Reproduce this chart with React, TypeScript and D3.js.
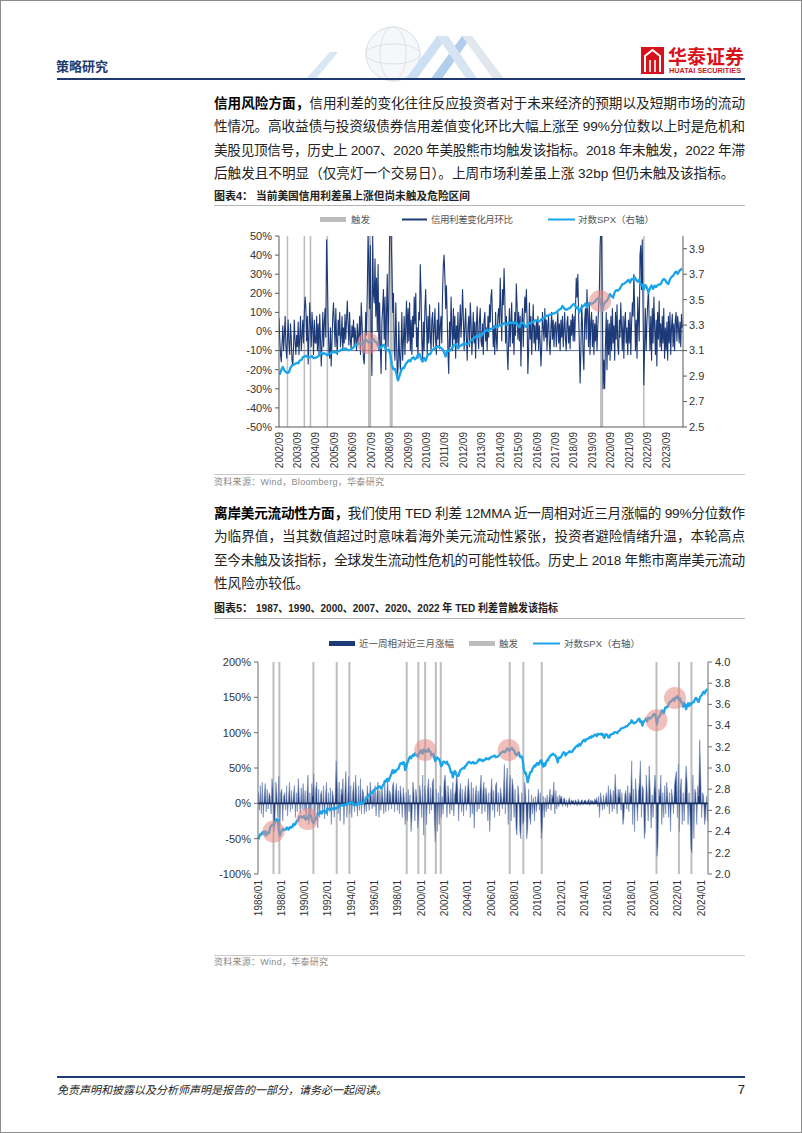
import React from "react";
import * as d3 from "d3";

// ---------------- DATA ----------------
// S&P 500 monthly closes (level), one row per year starting 1986
const SPX_START_YEAR = 1986;
const SPX_MONTHLY: number[][] = [
  [212, 227, 238, 235, 247, 251, 236, 253, 231, 244, 249, 242],
  [274, 284, 292, 288, 290, 304, 319, 330, 322, 252, 230, 247],
  [257, 268, 259, 261, 262, 274, 272, 262, 272, 279, 274, 278],
  [297, 289, 295, 310, 321, 318, 346, 351, 349, 340, 346, 353],
  [329, 332, 340, 331, 361, 358, 356, 323, 306, 304, 322, 330],
  [344, 367, 375, 375, 390, 371, 388, 395, 388, 392, 375, 417],
  [409, 413, 404, 415, 415, 408, 424, 414, 418, 419, 431, 436],
  [439, 443, 452, 440, 450, 451, 448, 464, 459, 468, 462, 466],
  [482, 467, 446, 451, 457, 444, 458, 475, 463, 472, 454, 459],
  [470, 487, 501, 515, 533, 545, 562, 562, 584, 582, 605, 616],
  [636, 640, 645, 654, 669, 671, 640, 652, 687, 705, 757, 741],
  [786, 791, 757, 801, 848, 885, 954, 899, 947, 915, 955, 970],
  [980, 1049, 1102, 1112, 1091, 1134, 1121, 957, 1017, 1099, 1164, 1229],
  [1280, 1238, 1286, 1335, 1302, 1373, 1329, 1320, 1283, 1363, 1389, 1469],
  [1394, 1366, 1499, 1452, 1421, 1455, 1431, 1518, 1437, 1429, 1315, 1320],
  [1366, 1240, 1160, 1249, 1256, 1224, 1211, 1134, 1041, 1060, 1139, 1148],
  [1130, 1107, 1147, 1077, 1067, 990, 912, 916, 815, 885, 936, 880],
  [855, 841, 848, 916, 964, 975, 990, 1008, 996, 1050, 1058, 1112],
  [1131, 1145, 1126, 1107, 1121, 1141, 1102, 1104, 1115, 1130, 1174, 1212],
  [1181, 1204, 1181, 1157, 1192, 1191, 1234, 1220, 1229, 1207, 1249, 1248],
  [1280, 1281, 1295, 1311, 1270, 1270, 1277, 1304, 1336, 1378, 1401, 1418],
  [1438, 1407, 1421, 1482, 1531, 1503, 1455, 1474, 1527, 1549, 1481, 1468],
  [1379, 1331, 1323, 1386, 1400, 1280, 1267, 1283, 1165, 969, 896, 903],
  [826, 735, 798, 873, 919, 919, 987, 1021, 1057, 1036, 1096, 1115],
  [1074, 1104, 1169, 1187, 1089, 1031, 1102, 1049, 1141, 1183, 1181, 1258],
  [1286, 1327, 1326, 1364, 1345, 1321, 1292, 1219, 1131, 1253, 1247, 1258],
  [1312, 1366, 1408, 1398, 1310, 1362, 1379, 1407, 1441, 1412, 1416, 1426],
  [1498, 1515, 1569, 1598, 1631, 1606, 1686, 1633, 1682, 1757, 1806, 1848],
  [1783, 1859, 1872, 1884, 1924, 1960, 1931, 2003, 1972, 2018, 2068, 2059],
  [1995, 2105, 2068, 2086, 2107, 2063, 2104, 1972, 1920, 2079, 2080, 2044],
  [1940, 1932, 2060, 2065, 2097, 2099, 2174, 2171, 2168, 2126, 2199, 2239],
  [2279, 2364, 2363, 2384, 2412, 2423, 2470, 2472, 2519, 2575, 2648, 2674],
  [2824, 2714, 2641, 2648, 2705, 2718, 2816, 2902, 2914, 2712, 2760, 2507],
  [2704, 2784, 2834, 2946, 2752, 2942, 2980, 2926, 2977, 3038, 3141, 3231],
  [3226, 2954, 2585, 2912, 3044, 3100, 3271, 3500, 3363, 3270, 3622, 3756],
  [3714, 3811, 3973, 4181, 4204, 4298, 4395, 4523, 4308, 4605, 4567, 4766],
  [4516, 4374, 4530, 4132, 4132, 3785, 4130, 3955, 3586, 3872, 4080, 3840],
  [4077, 3970, 4109, 4169, 4180, 4450, 4589, 4508, 4288, 4194, 4568, 4770],
  [4846, 5096, 5254, 5036, 5278, 5460, 5522],
];

// Chart 4: credit spread month-on-month change (%), semi-monthly, rows Sep..Aug starting 2002/09
const CREDIT_START = [2002, 8];
const CREDIT_CHANGE: number[][] = [
  [7, -4, -12, -16, -6, 3, -10, -2, 8, -8, -14, -3, 6, -6, -12, 4, -3, -15, -18, -8, 6, -5, -12, -2],
  [-8, 5, -12, -4, 8, -10, -3, 6, -6, 10, 18, 12, -5, 8, -17, -2, 15, 4, -8, 10, 2, -12, 6, -6],
  [-6, 8, -10, 4, -12, 9, -4, -18, -6, 10, -8, 5, 12, -3, 48, 30, 5, -10, -14, 2, -18, -6, 8, 15],
  [4, -8, 12, -5, -12, 6, -2, 10, -8, -3, 8, -10, 2, -6, 9, -4, 6, 16, 4, -7, 10, -5, -9, 3],
  [-3, 6, -8, 2, -5, -10, 4, -6, -2, 8, -12, 15, 6, -4, -14, -17, -8, 10, -2, 20, 50, 35, 12, 45],
  [-5, -23, 50, 20, 15, 38, 8, 28, 0, 35, -10, 15, -8, -22, 5, 12, 22, -4, 18, -20, 10, 30, -8, 15],
  [50, 55, 50, 33, 10, 20, -10, -15, 15, -5, -25, -18, 5, -12, -20, -8, 10, -15, -5, 8, -12, 2, 16, -6],
  [12, -5, 15, -10, 6, -12, 8, -3, 18, 4, 20, -8, 2, -14, 10, 6, 35, 20, -6, -15, 5, -10, 12, 22],
  [4, -12, 8, -6, 14, -3, -10, 6, 10, -8, 2, 12, -5, -12, 6, -4, 15, -9, 3, 8, -6, 20, 35, 40],
  [28, 12, 24, 8, -12, -22, 5, -8, 18, 2, -10, 12, -4, 8, -14, 3, -6, 10, -9, 2, 14, -3, 8, 22],
  [6, -10, 3, 12, -4, -15, 2, 8, -8, 15, 4, -12, -3, 10, -6, 5, -14, 2, 13, -2, -9, 6, 12, -5],
  [-8, 4, -12, 6, 10, -5, 2, -10, 8, -3, 14, 5, 18, 22, 6, -8, 3, -12, 10, -4, -10, 8, 12, 4],
  [28, 10, -5, 22, 14, 33, 18, -6, 8, -10, -20, -4, 12, -8, 6, 15, -6, 4, -12, 10, -2, 25, 14, -4],
  [10, -5, 8, -18, 4, 12, -8, 6, 18, 10, 22, 5, -22, -10, 15, -4, 8, -12, 2, 14, -6, 3, -10, 6],
  [-4, 8, -10, 3, -6, -18, -8, 10, 2, -5, 12, -3, 6, -10, 4, 8, -6, -12, 2, 10, -4, 6, -8, 3],
  [5, -8, 2, 10, -6, 4, -10, 6, -3, 8, -8, 2, 10, -4, -10, 5, 8, -6, 3, -9, 6, -2, 9, -5],
  [8, -5, 12, 28, 18, 30, 10, -6, -27, -10, 14, 4, -12, -20, 6, 12, -4, 22, 8, -8, 15, -12, 5, 10],
  [-8, 6, -12, 4, -5, 8, -10, 2, 12, 20, 45, 55, 50, 10, -30, -15, -30, -8, 10, -20, 6, -12, 4, -15],
  [8, -10, 12, -6, 3, -15, 10, -4, 14, -8, -12, 6, -3, 15, 2, -10, 8, -14, 5, 10, -6, 2, -12, 6],
  [-6, 10, -12, 4, 15, 8, 30, 12, -10, 6, -14, 18, 8, -5, 40, 45, 22, 48, 10, -28, -8, 12, -10, 5],
  [15, 22, 4, -10, 8, -15, 12, -6, 18, 2, -12, 6, -18, 10, -4, 16, -8, 4, -10, 8, -6, 12, -14, 2],
  [-10, 5, -15, 8, -6, 10, -12, 2, 9, -8, 4, -10, 6, 10, -5, 8, 3, -6, 5, -8, 9, 2],
];
// Chart 4 trigger periods [start, end)
const CREDIT_TRIGGERS: [string, string][] = [
  ["2003-02", "2003-03"], ["2004-01", "2004-02"], ["2004-05", "2004-06"], ["2005-04", "2005-05"],
  ["2007-07", "2007-09"], ["2008-09", "2008-11"], ["2020-02", "2020-04"], ["2022-06", "2022-07"],
];
const CREDIT_HIGHLIGHTS: [string, number][] = [["2007-07", 3.16], ["2020-02", 3.49]];

// Chart 5: TED spread weekly vs 3M change (%), monthly, one row per year starting 1986
const TED_START_YEAR = 1986;
const TED_CHANGE: number[][] = [
  [15, -10, 25, -15, 30, -20, 10, 28, -12, 20, -8, 15],
  [10, -15, 35, 20, -40, -25, 30, 12, -20, 38, -35, 15],
  [20, -25, 10, 15, -10, 25, -18, 8, 30, -12, 18, -8],
  [12, 25, -20, 15, -12, 35, 10, -15, 22, -8, 28, -10],
  [18, -25, 12, 40, -30, 15, -20, 28, 10, 42, -25, 20],
  [30, -35, 20, -20, 12, 18, -15, 25, -22, 10, 30, -18],
  [15, -12, 22, -30, 18, 10, -20, 12, 60, 25, -15, 30],
  [-25, 20, 12, 35, -30, 18, 45, -20, 10, 38, -15, 25],
  [-20, 15, 30, -12, 40, 12, -18, 25, -10, 35, -15, 20],
  [15, -15, 10, -12, 25, 8, -10, 30, 12, -8, 20, -5],
  [25, -18, 12, 30, -20, 18, -10, 22, 8, -15, 28, -12],
  [10, 35, -10, 18, 12, -8, 25, 30, -12, 15, 28, -10],
  [18, -15, 25, 10, -20, 22, 8, -30, 15, -25, 20, -12],
  [12, -40, -20, 30, 15, -25, 20, 8, -35, -15, 25, 10],
  [-20, 40, -45, 25, 12, -30, 18, 35, -15, 22, -10, 30],
  [35, -25, -55, 20, -40, 15, -30, 25, -20, 10, -15, 30],
  [40, 15, -20, 25, 10, -15, 20, -10, 30, -18, 12, 20],
  [45, 20, -25, 15, 28, -12, 20, -18, 10, 25, -10, 15],
  [35, 12, -20, 30, -15, 22, -35, 10, 25, -12, 18, -8],
  [20, 40, -15, 18, 30, -12, 22, 10, -25, 15, -40, 12],
  [35, -10, 18, -20, 25, 30, -12, 15, -18, 22, 10, -8],
  [15, 55, -15, 25, 50, -30, 20, 40, -25, 35, 25, -20],
  [20, -35, -45, 25, 10, -40, -50, 15, -30, -25, 30, 10],
  [-50, -35, 20, -20, -30, 12, -15, 8, -25, 10, -12, 5],
  [20, -10, 15, -50, -35, 10, -20, 8, -12, 12, -8, 5],
  [20, -10, 12, 8, 30, -15, 18, -8, 10, -5, 12, 6],
  [10, -5, 6, 8, -4, 5, -6, 4, 8, -3, 5, 3],
  [4, -3, 5, 3, -4, 6, 2, -3, 4, 5, -2, 3],
  [5, 3, -2, 4, 6, -3, 5, 2, 4, -2, 6, 3],
  [8, -5, 10, -20, 15, 5, -10, 12, -8, 6, 15, -5],
  [25, -15, 20, 10, -12, 18, -8, 41, 12, -15, 20, 8],
  [20, -10, 15, -30, -20, 12, 18, -8, 25, -12, 15, 10],
  [60, -30, 20, -40, 35, 10, -25, 15, 30, 60, -20, 25],
  [20, -50, -40, 40, 15, -25, 53, 20, -35, 12, -20, 18],
  [40, 15, -75, -60, 20, 10, 40, -30, 15, -20, 25, -15],
  [30, 10, -20, 15, -40, 20, 8, -15, 25, 37, 45, -20],
  [55, -40, 20, 35, -30, 15, -25, 20, 53, 30, -30, 15],
  [-20, -65, -70, 40, -50, 20, 15, -30, 25, 10, 90, 40],
  [-20, 15, 10, -30, -20, 10, -25],
];
const TED_TRIGGERS: string[] = [
  "1987-05", "1987-11", "1990-10", "1992-10", "1993-11", "1998-10", "1999-10", "2000-05",
  "2001-04", "2001-09", "2007-08", "2008-10", "2010-05", "2020-03", "2022-02", "2023-03",
];
const TED_HIGHLIGHTS: [string, number][] = [
  ["1987-05", 2.4], ["1990-04", 2.52], ["2000-05", 3.17], ["2007-07", 3.17], ["2020-03", 3.45], ["2021-10", 3.66],
];

// ticks / labels
const CREDIT_TICKS = [-50, -40, -30, -20, -10, 0, 10, 20, 30, 40, 50];
const SPX1_TICKS = [2.5, 2.7, 2.9, 3.1, 3.3, 3.5, 3.7, 3.9];
const X1_LABELS = ["2002/09", "2003/09", "2004/09", "2005/09", "2006/09", "2007/09", "2008/09", "2009/09", "2010/09", "2011/09", "2012/09", "2013/09", "2014/09", "2015/09", "2016/09", "2017/09", "2018/09", "2019/09", "2020/09", "2021/09", "2022/09", "2023/09"];
const TED_TICKS = [-100, -50, 0, 50, 100, 150, 200];
const SPX2_TICKS = [2.0, 2.2, 2.4, 2.6, 2.8, 3.0, 3.2, 3.4, 3.6, 3.8, 4.0];
const X2_LABELS = ["1986/01", "1988/01", "1990/01", "1992/01", "1994/01", "1996/01", "1998/01", "2000/01", "2002/01", "2004/01", "2006/01", "2008/01", "2010/01", "2012/01", "2014/01", "2016/01", "2018/01", "2020/01", "2022/01", "2024/01"];

const PARA1: { b?: string; t: string }[] = [
  { b: "信用风险方面，", t: "信用利差的变化往往反应投资者对于未来经济的预期以及短期市场的流动" },
  { t: "性情况。高收益债与投资级债券信用差值变化环比大幅上涨至 99%分位数以上时是危机和" },
  { t: "美股见顶信号，历史上 2007、2020 年美股熊市均触发该指标。2018 年未触发，2022 年滞" },
  { t: "后触发且不明显（仅亮灯一个交易日）。上周市场利差虽上涨 32bp 但仍未触及该指标。" },
];
const PARA2: { b?: string; t: string }[] = [
  { b: "离岸美元流动性方面，", t: "我们使用 TED 利差 12MMA 近一周相对近三月涨幅的 99%分位数作" },
  { t: "为临界值，当其数值超过时意味着海外美元流动性紧张，投资者避险情绪升温，本轮高点" },
  { t: "至今未触及该指标，全球发生流动性危机的可能性较低。历史上 2018 年熊市离岸美元流动" },
  { t: "性风险亦较低。" },
];

// ---------------- HELPERS ----------------
const SANS = "'Liberation Sans', Arial, 'Noto Sans CJK SC', sans-serif";
const CJK = "'Liberation Sans', 'Noto Sans CJK SC', sans-serif";
const NAVY = "#1d3a78";
const SKY = "#1aa5ea";
const GRAYBAR = "#bdbdbd";
const ym = (s: string) => { const [y, m] = s.split("-").map(Number); return new Date(y, m - 1, 1); };

const spxSeries = SPX_MONTHLY.flatMap((row, i) =>
  row.map((v, m) => ({ date: new Date(SPX_START_YEAR + i, m, 15), value: Math.log10(v) })));
const creditSeries = CREDIT_CHANGE.flat().map((v, i) => ({
  date: new Date(CREDIT_START[0], CREDIT_START[1] + Math.floor(i / 2), i % 2 === 0 ? 1 : 16), value: v }));
const tedSeries = TED_CHANGE.flatMap((row, i) =>
  row.map((v, m) => ({ date: new Date(TED_START_YEAR + i, m, 15), value: v })));

function Para({ lines, y0, lh, widths }: { lines: { b?: string; t: string }[]; y0: number; lh: number; widths: (number | null)[] }) {
  return (
    <g fontFamily={CJK} fontSize={13.6} fill="#222">
      {lines.map((l, i) => (
        <text key={i} x={214} y={y0 + i * lh} {...(widths[i] ? { textLength: widths[i] as number, lengthAdjust: "spacing" } : {})}>
          {l.b ? <tspan fontWeight="bold" fill="#000">{l.b}</tspan> : null}
          <tspan>{l.t}</tspan>
        </text>
      ))}
    </g>
  );
}

function Chart4() {
  const L = 279, R = 683, T = 236, B = 427;
  const x = d3.scaleTime().domain([new Date(2002, 8, 1), new Date(2024, 6, 31)]).range([L, R]);
  const y = d3.scaleLinear().domain([-50, 50]).range([B, T]);
  const y2 = d3.scaleLinear().domain([2.5, 4.0]).range([B, T]);
  const spx = spxSeries.filter(d => d.date >= new Date(2002, 8, 1));
  const line = d3.line<{ date: Date; value: number }>().x(d => x(d.date)).y(d => y(d.value));
  const line2 = d3.line<{ date: Date; value: number }>().x(d => x(d.date)).y(d => y2(d.value));
  return (
    <g>
      <defs>
        <clipPath id="c4"><rect x={L} y={T} width={R - L} height={B - T} /></clipPath>
      </defs>
      {/* legend */}
      <g fontFamily={CJK} fontSize={9.5} fill="#555">
        <rect x={320} y={217} width={26} height={5} fill={GRAYBAR} />
        <text x={351} y={223}>触发</text>
        <line x1={402} x2={427} y1={219.5} y2={219.5} stroke={NAVY} strokeWidth={2} />
        <text x={431} y={223} textLength={82} lengthAdjust="spacing">信用利差变化月环比</text>
        <line x1={548} x2={575} y1={219.5} y2={219.5} stroke={SKY} strokeWidth={2} />
        <text x={578} y={223}>对数SPX（右轴）</text>
      </g>
      {/* triggers */}
      {CREDIT_TRIGGERS.map(([s, e], i) => (
        <rect key={i} x={x(ym(s))} y={T} width={Math.max(1.5, x(ym(e)) - x(ym(s)))} height={B - T} fill={GRAYBAR} />
      ))}
      <line x1={L} x2={R} y1={y(0)} y2={y(0)} stroke="#6f6f6f" strokeWidth={1} />
      <line x1={L} x2={R} y1={y(-10)} y2={y(-10)} stroke="#5d6f99" strokeWidth={1} />
      <g clipPath="url(#c4)">
        <path d={line(creditSeries) || ""} fill="none" stroke={NAVY} strokeWidth={1.1} strokeLinejoin="round" />
        <path d={line2(spx) || ""} fill="none" stroke={SKY} strokeWidth={2.3} strokeLinejoin="round" />
      </g>
      {CREDIT_HIGHLIGHTS.map(([d, v], i) => (
        <circle key={i} cx={x(ym(d))} cy={y2(v)} r={11} fill="#e58a84" opacity={0.55} />
      ))}
      {/* axes */}
      <g stroke="#595959" strokeWidth={1}>
        <line x1={L} x2={L} y1={T} y2={B} />
        <line x1={R} x2={R} y1={T} y2={B} />
        <line x1={L} x2={R} y1={B} y2={B} />
        {CREDIT_TICKS.map(t => <line key={t} x1={L - 4} x2={L} y1={y(t)} y2={y(t)} />)}
        {SPX1_TICKS.map(t => <line key={t} x1={R} x2={R + 4} y1={y2(t)} y2={y2(t)} />)}
      </g>
      <g fontFamily={SANS} fontSize={11} fill="#333">
        {CREDIT_TICKS.map(t => <text key={t} x={272} y={y(t)} dy="0.35em" textAnchor="end">{t}%</text>)}
        {SPX1_TICKS.map(t => <text key={t} x={689} y={y2(t)} dy="0.35em">{t.toFixed(1)}</text>)}
      </g>
      <g fontFamily={SANS} fontSize={10} fill="#333">
        {X1_LABELS.map(s => {
          const [yy, mm] = s.split("/").map(Number);
          const xx = x(new Date(yy, mm - 1, 1));
          return <text key={s} transform={`translate(${xx},${B + 5}) rotate(-90)`} dy="0.35em" textAnchor="end">{s}</text>;
        })}
      </g>
    </g>
  );
}

function Chart5() {
  const L = 258, R = 708, T = 662, B = 874;
  const x = d3.scaleTime().domain([new Date(1986, 0, 1), new Date(2024, 6, 31)]).range([L, R]);
  const y = d3.scaleLinear().domain([-100, 200]).range([B, T]);
  const y2 = d3.scaleLinear().domain([2.0, 4.0]).range([B, T]);
  const area = d3.area<{ date: Date; value: number }>().x(d => x(d.date)).y0(y(0)).y1(d => y(d.value));
  const line2 = d3.line<{ date: Date; value: number }>().x(d => x(d.date)).y(d => y2(d.value));
  return (
    <g>
      <g fontFamily={CJK} fontSize={9.5} fill="#555">
        <rect x={329} y={641} width={26} height={5} fill={NAVY} />
        <text x={359} y={647}>近一周相对近三月涨幅</text>
        <rect x={469} y={641} width={26} height={5} fill={GRAYBAR} />
        <text x={499} y={647}>触发</text>
        <line x1={533} x2={560} y1={643.5} y2={643.5} stroke={SKY} strokeWidth={2} />
        <text x={564} y={647}>对数SPX（右轴）</text>
      </g>
      {TED_TRIGGERS.map((d, i) => (
        <line key={i} x1={x(ym(d))} x2={x(ym(d))} y1={T} y2={B} stroke={GRAYBAR} strokeWidth={2} />
      ))}
      <path d={area(tedSeries) || ""} fill={NAVY} stroke="#6d84b6" strokeWidth={0.6} strokeLinejoin="round" />
      <line x1={L} x2={R} y1={y(0)} y2={y(0)} stroke="#142d5e" strokeWidth={1.6} />
      <path d={line2(spxSeries) || ""} fill="none" stroke={SKY} strokeWidth={2.3} strokeLinejoin="round" />
      {TED_HIGHLIGHTS.map(([d, v], i) => (
        <circle key={i} cx={x(ym(d))} cy={y2(v)} r={11} fill="#e58a84" opacity={0.55} />
      ))}
      <g stroke="#6a6a6a" strokeWidth={1}>
        <line x1={L} x2={L} y1={T} y2={B} />
        <line x1={R} x2={R} y1={T} y2={B} />
        {TED_TICKS.map(t => <line key={t} x1={L - 4} x2={L} y1={y(t)} y2={y(t)} />)}
        {SPX2_TICKS.map(t => <line key={t} x1={R} x2={R + 4} y1={y2(t)} y2={y2(t)} />)}
      </g>
      <g fontFamily={SANS} fontSize={11} fill="#333">
        {TED_TICKS.map(t => <text key={t} x={251} y={y(t)} dy="0.35em" textAnchor="end">{t}%</text>)}
        {SPX2_TICKS.map(t => <text key={t} x={715} y={y2(t)} dy="0.35em">{t.toFixed(1)}</text>)}
      </g>
      <g fontFamily={SANS} fontSize={10} fill="#333">
        {X2_LABELS.map(s => {
          const [yy, mm] = s.split("/").map(Number);
          const xx = x(new Date(yy, mm - 1, 1));
          return <text key={s} transform={`translate(${xx},${B + 6}) rotate(-90)`} dy="0.35em" textAnchor="end">{s}</text>;
        })}
      </g>
    </g>
  );
}

export default function App() {
  return (
    <svg width={802} height={1133} style={{ position: "absolute", left: 0, top: 0, background: "#fff" }}>
      <rect x={0.5} y={0.5} width={801} height={1132} fill="#fff" stroke="#8c8c8c" />
      {/* header decoration */}
      <g opacity={0.7}>
        <circle cx={393} cy={54} r={27} fill="#f1f4f8" stroke="#c8d0da" />
        <ellipse cx={393} cy={54} rx={13} ry={27} fill="none" stroke="#d0d7e0" />
        <ellipse cx={393} cy={54} rx={27} ry={10} fill="none" stroke="#d0d7e0" />
        <path d="M 405 80 L 437 36 L 448 36 L 416 80 Z" fill="#b9d3ee" />
        <path d="M 430 80 L 462 36 L 472 36 L 441 80 Z" fill="#8fb9e4" />
        <path d="M 448 36 L 478 80 L 467 80 L 437 36 Z" fill="#c5d9ee" />
        <path d="M 472 36 L 505 80 L 494 80 L 462 36 Z" fill="#d5dde6" />
        <path d="M 305 80 L 330 52 L 338 52 L 315 80 Z" fill="#c9dcef" />
      </g>
      {/* header */}
      <text x={56} y={71} fontFamily={CJK} fontSize={13} fontWeight="bold" fill="#1f3a6e">策略研究</text>
      <rect x={641} y={47} width={23} height={27} fill="#d8121b" />
      <path d="M 645 72 L 645 56 L 652.5 50 L 660 56 L 660 72" fill="none" stroke="#fff" strokeWidth={2} />
      <path d="M 650 72 L 650 60 M 655 72 L 655 60" stroke="#fff" strokeWidth={1.6} />
      <text x={668} y={64} fontFamily={CJK} fontSize={19} fontWeight="bold" fill="#d8121b">华泰证券</text>
      <text x={669} y={73} fontFamily={SANS} fontSize={6.3} fontWeight="bold" fill="#c8161d" textLength={72} lengthAdjust="spacingAndGlyphs">HUATAI SECURITIES</text>
      <line x1={57} x2={745} y1={79} y2={79} stroke="#1f3a6e" strokeWidth={2.2} />

      <Para lines={PARA1} y0={108} lh={23.4} widths={[531, 531, 531, null]} />

      <text x={214} y={200} fontFamily={CJK} fontSize={11} fontWeight="bold" fill="#222">图表4：</text>
      <text x={256} y={200} fontFamily={CJK} fontSize={11} fontWeight="bold" fill="#222" textLength={214} lengthAdjust="spacingAndGlyphs">当前美国信用利差虽上涨但尚未触及危险区间</text>
      <line x1={214} x2={745} y1={205.5} y2={205.5} stroke="#b5b5b5" strokeWidth={1} />
      <Chart4 />
      <line x1={214} x2={745} y1={474.5} y2={474.5} stroke="#c9c9c9" strokeWidth={1} />
      <text x={214} y={485} fontFamily={CJK} fontSize={9} fill="#8a8a8a" textLength={170} lengthAdjust="spacing">资料来源：Wind，Bloomberg，华泰研究</text>

      <Para lines={PARA2} y0={518} lh={23.4} widths={[531, 531, 531, null]} />

      <text x={214} y={612} fontFamily={CJK} fontSize={11} fontWeight="bold" fill="#222">图表5：</text>
      <text x={256} y={612} fontFamily={CJK} fontSize={11} fontWeight="bold" fill="#222" textLength={302} lengthAdjust="spacingAndGlyphs">1987、1990、2000、2007、2020、2022 年 TED 利差曾触发该指标</text>
      <line x1={214} x2={745} y1={618.5} y2={618.5} stroke="#b5b5b5" strokeWidth={1} />
      <Chart5 />
      <line x1={214} x2={745} y1={955.5} y2={955.5} stroke="#c9c9c9" strokeWidth={1} />
      <text x={214} y={965} fontFamily={CJK} fontSize={9} fill="#8a8a8a" textLength={114} lengthAdjust="spacing">资料来源：Wind，华泰研究</text>

      {/* footer */}
      <line x1={57} x2={745} y1={1077} y2={1077} stroke="#1f3a6e" strokeWidth={2.2} />
      <text x={57} y={1094} fontFamily={CJK} fontSize={11} fontStyle="italic" fill="#222">免责声明和披露以及分析师声明是报告的一部分，请务必一起阅读。</text>
      <text x={745} y={1094} fontFamily={SANS} fontSize={13} textAnchor="end" fill="#222">7</text>
    </svg>
  );
}
